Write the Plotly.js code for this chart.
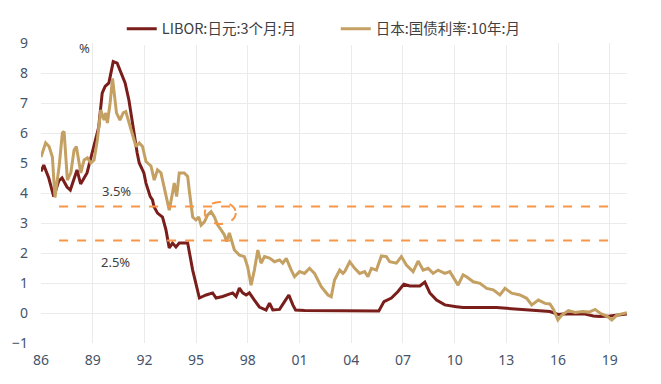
<!DOCTYPE html>
<html>
<head>
<meta charset="utf-8">
<script src="https://cdn.plot.ly/plotly-3.0.1.min.js"></script>
<style>html,body{margin:0;padding:0;background:#fff;}#chart{width:661px;height:384px;}</style>
</head>
<body>
<div id="chart"></div>
<script>
// LIBOR: JPY 3M (monthly) — decimal years / percent
const liborYears = [1986.0,1986.16,1986.45,1986.74,1987.03,1987.22,1987.51,1987.70,1988.09,1988.30,1988.67,1988.97,1989.35,1989.55,1989.72,1989.94,1990.19,1990.42,1990.59,1990.88,1991.10,1991.39,1991.58,1991.70,1991.97,1992.09,1992.34,1992.47,1992.55,1992.76,1993.05,1993.25,1993.44,1993.63,1993.83,1994.02,1994.51,1994.80,1995.19,1995.58,1995.96,1996.16,1996.54,1997.12,1997.32,1997.51,1997.70,1997.90,1998.09,1998.38,1998.67,1999.06,1999.26,1999.45,1999.84,2000.13,2000.38,2000.61,2000.77,2001.30,2002.00,2003.00,2004.50,2005.60,2005.90,2006.33,2006.70,2007.05,2007.40,2007.98,2008.27,2008.56,2008.95,2009.43,2010.10,2010.49,2012.44,2014.37,2015.53,2016.00,2016.30,2017.50,2018.05,2018.44,2019.00,2019.99];
const liborValues = [4.72,4.93,4.5,3.88,4.4,4.5,4.2,4.1,4.77,4.3,4.67,5.33,6.2,7.33,7.55,7.67,8.38,8.33,8.1,7.67,7.1,6.0,5.33,5.0,4.67,4.33,3.88,3.77,3.55,3.33,3.2,2.77,2.17,2.33,2.2,2.33,2.33,1.43,0.5,0.6,0.67,0.5,0.55,0.67,0.55,0.83,0.67,0.6,0.67,0.43,0.2,0.1,0.33,0.1,0.12,0.38,0.6,0.27,0.1,0.08,0.08,0.06,0.06,0.07,0.38,0.5,0.71,0.96,0.9,0.9,1.03,0.67,0.43,0.27,0.21,0.18,0.18,0.1,0.05,-0.05,-0.03,-0.03,-0.1,-0.12,-0.1,-0.03];

// Japan government bond 10Y (monthly)
const jgbYears = [1986.0,1986.27,1986.47,1986.66,1986.81,1986.85,1987.05,1987.24,1987.34,1987.44,1987.53,1987.73,1987.92,1988.05,1988.21,1988.31,1988.50,1988.69,1988.89,1989.08,1989.27,1989.47,1989.66,1989.76,1989.85,1990.01,1990.15,1990.24,1990.38,1990.58,1990.77,1990.92,1991.12,1991.31,1991.51,1991.70,1991.89,1992.09,1992.38,1992.57,1992.76,1992.96,1993.15,1993.44,1993.63,1993.73,1993.87,1994.02,1994.31,1994.51,1994.60,1994.80,1994.99,1995.15,1995.29,1995.48,1995.67,1995.87,1996.06,1996.25,1996.45,1996.64,1996.77,1996.93,1997.22,1997.51,1997.80,1997.99,1998.19,1998.38,1998.58,1998.77,1998.97,1999.26,1999.55,1999.84,2000.03,2000.23,2000.52,2000.71,2001.00,2001.29,2001.58,2001.87,2002.26,2002.65,2002.84,2003.03,2003.33,2003.52,2003.62,2003.91,2004.20,2004.49,2004.78,2004.97,2005.17,2005.46,2005.75,2006.04,2006.23,2006.62,2006.91,2007.20,2007.59,2007.88,2008.17,2008.46,2008.75,2009.04,2009.43,2009.72,2010.20,2010.49,2010.69,2011.08,2011.47,2011.86,2012.24,2012.63,2012.92,2013.31,2013.79,2014.18,2014.47,2014.86,2015.24,2015.53,2015.75,2015.99,2016.22,2016.60,2017.00,2017.40,2017.80,2018.15,2018.44,2018.83,2019.12,2019.41,2019.99];
const jgbValues = [5.2,5.67,5.55,5.2,3.85,4.0,4.88,6.0,6.05,5.2,4.43,4.67,5.43,5.55,5.0,4.67,5.1,5.17,5.0,5.1,5.77,6.77,6.43,6.67,6.33,7.0,7.82,7.33,6.67,6.43,6.67,6.71,6.33,6.0,5.55,5.67,5.55,5.05,4.9,4.43,4.77,4.67,4.2,3.43,4.0,4.33,3.88,4.67,4.67,4.55,4.1,3.2,3.1,3.2,2.93,3.04,3.27,3.38,3.2,2.93,2.77,2.6,2.38,2.67,2.1,1.93,1.88,1.54,0.93,1.43,2.1,1.66,1.88,1.83,1.71,1.77,1.66,1.82,1.43,1.21,1.38,1.32,1.49,1.32,0.88,0.6,0.54,1.1,1.43,1.32,1.38,1.71,1.49,1.32,1.38,1.21,1.49,1.43,1.9,1.88,1.71,1.66,1.88,1.6,1.38,1.73,1.43,1.49,1.32,1.43,1.32,1.38,0.93,1.27,1.21,1.04,0.99,0.82,0.77,0.6,0.82,0.66,0.6,0.49,0.27,0.43,0.32,0.3,0.1,-0.23,-0.07,0.08,0.02,0.05,0.03,0.12,-0.01,-0.1,-0.23,-0.07,0.01];

// Reference levels (dashed) and labels
const refLevels = [3.55, 2.42];
const refSpan = [1987.05, 2019.08];
const refLabels = ["3.5%", "2.5%"];
const highlight = {x0: 1995.5, x1: 1997.3, y0: 2.97, y1: 3.7};

const tickYears = [1986,1989,1992,1995,1998,2001,2004,2007,2010,2013,2016,2019];
const tickLabels = ["86","89","92","95","98","01","04","07","10","13","16","19"];
const yTicks = [-1,0,1,2,3,4,5,6,7,8,9];

const seriesNames = ["LIBOR:日元:3个月:月", "日本:国债利率:10年:月"];
const colLibor = "#7A1E1B";
const colJgb = "#C4A063";
const colRef = "#F79646";

const font = "'Noto Sans', 'Noto Sans CJK SC', sans-serif";

const traces = [
  {x: liborYears, y: liborValues, name: seriesNames[0], type: "scatter", mode: "lines",
   line: {color: colLibor, width: 3}, hoverinfo: "skip"},
  {x: jgbYears, y: jgbValues, name: seriesNames[1], type: "scatter", mode: "lines",
   line: {color: colJgb, width: 3}, hoverinfo: "skip"}
];
refLevels.forEach(v => traces.push({
  x: refSpan, y: [v, v], type: "scatter", mode: "lines", showlegend: false,
  line: {color: colRef, width: 2, dash: "dash"}, hoverinfo: "skip"
}));

const layout = {
  width: 661, height: 384,
  margin: {l: 41, r: 34, t: 43, b: 41},
  paper_bgcolor: "#fff", plot_bgcolor: "#fff",
  font: {family: font, size: 13, color: "#404040"},
  showlegend: true,
  legend: {orientation: "h", x: 0.503, xanchor: "center", y: 1.047, yanchor: "middle",
           font: {family: "'Noto Sans CJK SC', sans-serif", size: 14.5, color: "#404040"},
           entrywidth: 169, entrywidthmode: "pixels",
           tracegroupgap: 0, traceorder: "normal"},
  xaxis: {range: [1986, 2020], tickvals: tickYears, ticktext: tickLabels,
          showgrid: true, gridcolor: "#EBEBEB", gridwidth: 1, zeroline: false,
          showline: false, ticks: "", ticklabelstandoff: 7,
          tickfont: {size: 14, color: "#44546A"}, fixedrange: true},
  yaxis: {range: [-1, 9], tickvals: yTicks, showgrid: true, gridcolor: "#EBEBEB", gridwidth: 1,
          zeroline: false, showline: false, ticks: "", ticklabelstandoff: 12,
          tickfont: {size: 14, color: "#44546A"}, fixedrange: true},
  shapes: [
    {type: "circle", xref: "x", yref: "y", x0: highlight.x0, x1: highlight.x1,
     y0: highlight.y0, y1: highlight.y1, line: {color: colRef, width: 2, dash: "dash"}}
  ],
  annotations: [
    {text: "%", xref: "x", yref: "y", x: 1988.55, y: 8.83, showarrow: false,
     font: {size: 13, color: "#404040"}},
    {text: refLabels[0], xref: "x", yref: "y", x: 1990.4, y: 4.07, showarrow: false,
     font: {size: 13, color: "#404040"}},
    {text: refLabels[1], xref: "x", yref: "y", x: 1990.35, y: 1.7, showarrow: false,
     font: {size: 13, color: "#404040"}}
  ]
};

Plotly.newPlot("chart", traces, layout, {displayModeBar: false, staticPlot: true});
</script>
</body>
</html>
